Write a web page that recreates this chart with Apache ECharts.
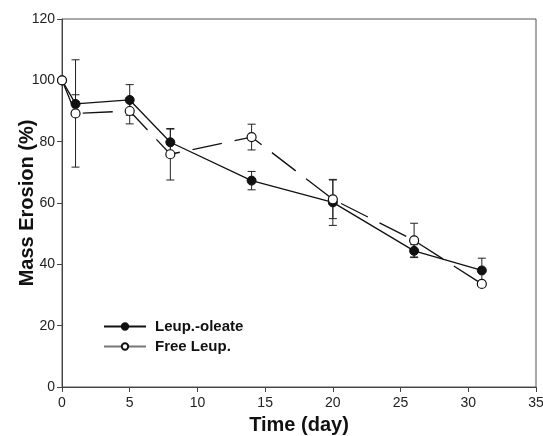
<!DOCTYPE html>
<html>
<head>
<meta charset="utf-8">
<script src="https://cdn.jsdelivr.net/npm/echarts@6/dist/echarts.min.js"></script>
<style>
  html, body { margin: 0; padding: 0; background: #fff; }
  #chart { width: 543px; height: 436px; }
</style>
</head>
<body>
<div id="chart"></div>
<script>
// dados
var days = [0, 1, 5, 8, 14, 20, 26, 31];
var oleateMass = [100, 92.3, 93.6, 79.8, 67.3, 60.2, 44.4, 38.0];
var oleateErr = [0, 3, 5, 4.3, 3, 7.5, 2, 4];
var freeMass = [100, 89.2, 90.0, 75.9, 81.5, 61.2, 47.8, 33.6];
var freeErr = [0, 17.5, 4.2, 8.4, 4.2, 6.3, 5.6, 0];
var xTicks = [0, 5, 10, 15, 20, 25, 30, 35];
var yTicks = [0, 20, 40, 60, 80, 100, 120];

var dom = document.getElementById('chart');
var myChart = echarts.init(dom, null, { renderer: 'canvas' });

function pairs(xs, ys) {
    return xs.map(function (x, i) { return [x, ys[i]]; });
}

function errData(xs, ys, es) {
    var out = [];
    xs.forEach(function (x, i) {
        if (es[i] > 0) out.push([x, ys[i] - es[i], ys[i] + es[i]]);
    });
    return out;
}

// barra de erro com tracinhos nas pontas
function renderErr(params, api) {
    var lo = api.coord([api.value(0), api.value(1)]);
    var hi = api.coord([api.value(0), api.value(2)]);
    var w = 4;
    var st = { stroke: '#222', lineWidth: 1 };
    return {
        type: 'group',
        children: [
            { type: 'line', shape: { x1: lo[0], y1: lo[1], x2: hi[0], y2: hi[1] }, style: st },
            { type: 'line', shape: { x1: lo[0] - w, y1: lo[1], x2: lo[0] + w, y2: lo[1] }, style: st },
            { type: 'line', shape: { x1: hi[0] - w, y1: hi[1], x2: hi[0] + w, y2: hi[1] }, style: st }
        ]
    };
}

var option = {
    backgroundColor: '#fff',
    animation: false,
    grid: {
        left: 62,
        right: 7,
        top: 19,
        bottom: 49,
        outerBoundsMode: 'none',
        containLabel: false,
        show: true,
        borderColor: '#555',
        borderWidth: 1
    },
    legend: {
        orient: 'vertical',
        left: 98,
        top: 314,
        itemWidth: 42,
        itemHeight: 8,
        itemGap: 5,
        textStyle: {
            fontFamily: 'Liberation Sans, Arial, sans-serif',
            fontWeight: 'bold',
            fontSize: 15,
            color: '#111',
            padding: [0, 0, 0, 4]
        },
        data: [
            { name: 'Leup.-oleate' },
            { name: 'Free Leup.', lineStyle: { type: 'solid', color: '#777' } }
        ]
    },
    xAxis: {
        type: 'value',
        min: 0,
        max: 35,
        interval: 5,
        splitLine: { show: false },
        axisLine: { lineStyle: { color: '#444' } },
        axisTick: { show: true, inside: false, length: 5, lineStyle: { color: '#444' } },
        axisLabel: {
            fontFamily: 'Liberation Sans, Arial, sans-serif',
            fontSize: 14,
            color: '#222',
            margin: 9,
            formatter: function (v) { return xTicks.indexOf(v) >= 0 ? String(v) : ''; }
        },
        name: 'Time (day)',
        nameLocation: 'middle',
        nameGap: 28,
        nameTextStyle: {
            fontFamily: 'Liberation Sans, Arial, sans-serif',
            fontWeight: 'bold',
            fontSize: 20,
            color: '#111'
        }
    },
    yAxis: {
        type: 'value',
        min: 0,
        max: 120,
        interval: 20,
        splitLine: { show: false },
        axisLine: { show: true, lineStyle: { color: '#444' } },
        axisTick: { show: true, inside: false, length: 5, lineStyle: { color: '#444' } },
        axisLabel: {
            fontFamily: 'Liberation Sans, Arial, sans-serif',
            fontSize: 14,
            color: '#222',
            margin: 7,
            formatter: function (v) { return yTicks.indexOf(v) >= 0 ? String(v) : ''; }
        },
        name: 'Mass Erosion (%)',
        nameLocation: 'middle',
        nameGap: 25,
        nameMoveOverlap: false,
        nameTextStyle: {
            fontFamily: 'Liberation Sans, Arial, sans-serif',
            fontWeight: 'bold',
            fontSize: 20,
            color: '#111'
        }
    },
    series: [
        {
            name: 'errOleate',
            type: 'custom',
            renderItem: renderErr,
            data: errData(days, oleateMass, oleateErr),
            z: 1,
            silent: true
        },
        {
            name: 'errFree',
            type: 'custom',
            renderItem: renderErr,
            data: errData(days, freeMass, freeErr),
            z: 1,
            silent: true
        },
        {
            name: 'Leup.-oleate',
            type: 'line',
            data: pairs(days, oleateMass),
            symbol: 'circle',
            symbolSize: 9,
            itemStyle: { color: '#111', borderColor: '#111', borderWidth: 1 },
            lineStyle: { color: '#111', width: 1.3 },
            z: 3
        },
        {
            name: 'Free Leup.',
            type: 'line',
            data: pairs(days, freeMass),
            symbol: 'circle',
            symbolSize: 9,
            itemStyle: { color: '#fff', borderColor: '#111', borderWidth: 1.2 },
            lineStyle: { color: '#111', width: 1.3, type: [30, 13] },
            z: 4
        }
    ]
};

myChart.setOption(option);
</script>
</body>
</html>
